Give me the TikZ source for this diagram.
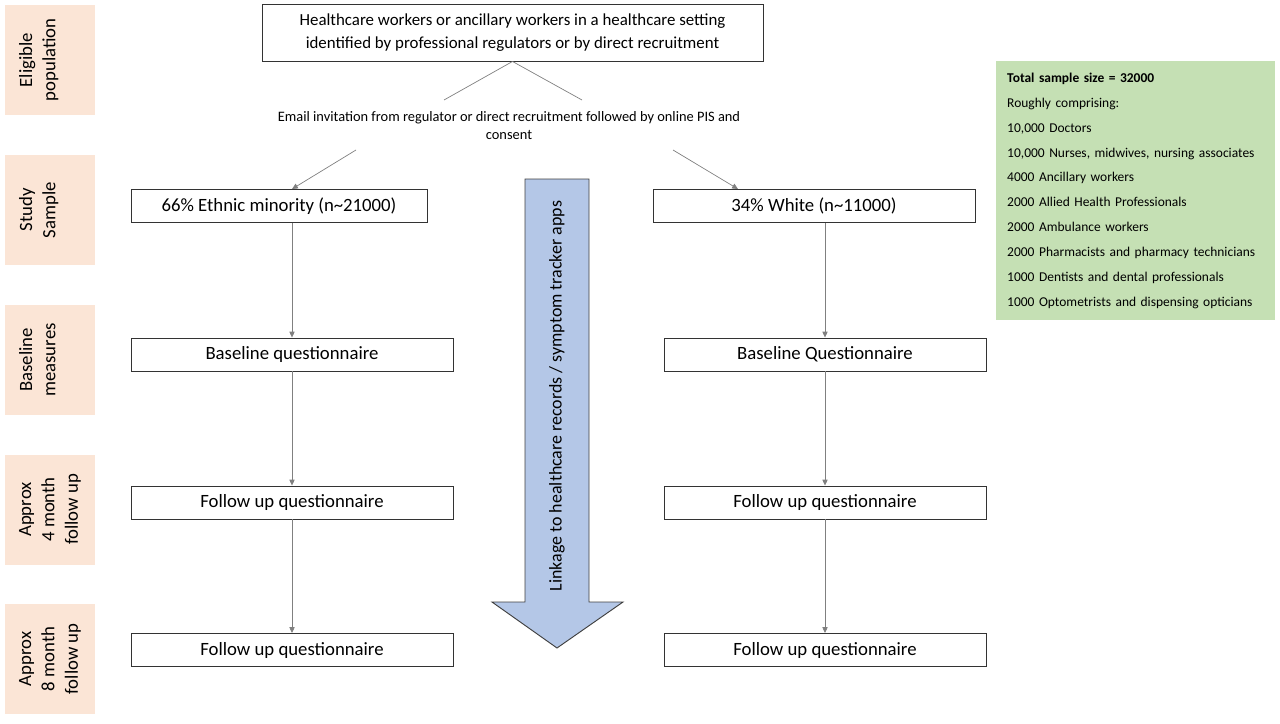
\documentclass[tikz,border=0pt]{standalone}
\usepackage{fontspec}
\setmainfont{Carlito}
\usetikzlibrary{arrows.meta}
\definecolor{peach}{RGB}{251,229,214}
\definecolor{sage}{RGB}{197,224,180}
\definecolor{linkblue}{RGB}{180,199,231}

\begin{document}
\begin{tikzpicture}[x=0.03cm,y=-0.03cm,
  stage/.style={fill=peach,minimum width=2.7cm,minimum height=3.3cm,inner sep=0pt},
  stagetext/.style={xshift=0.42cm,rotate=90,anchor=north,align=center,inner sep=0pt,
    font=\fontsize{16}{20}\selectfont},
  qbox/.style={draw=black!80,line width=0.8pt,minimum width=9.66cm,
    minimum height=0.99cm,font=\fontsize{16}{18}\selectfont},
  link/.style={draw=black!50,line width=0.6pt},
  conn/.style={link,-{Triangle[length=5pt,width=4.5pt]}}]
  \useasboundingbox (0,0) rectangle (1280,723);
  % stages down the left side
  \node[stage] (seligible) at (50,60) {};
  \node[stage] (sstudy) at (50,210) {};
  \node[stage] (sbaseline) at (50,360) {};
  \node[stage] (sfour) at (50,509.5) {};
  \node[stage] (seight) at (50,659) {};
  \node[stagetext] (teligible) at (seligible.west) {Eligible\\population};
  \node[stagetext] (tstudy) at (sstudy.west) {Study\\Sample};
  \node[stagetext] (tbaseline) at (sbaseline.west) {Baseline\\measures};
  \node[stagetext] (tfour) at (sfour.west) {Approx\\4 month\\follow up};
  \node[stagetext] (teight) at (seight.west) {Approx\\8 month\\follow up};
  % recruitment
  \node[qbox,minimum width=15.03cm,minimum height=1.71cm,align=center,
    font=\fontsize{14.4}{19}\selectfont] (eligible) at (512.5,32.5)
    {Healthcare workers or ancillary workers in a healthcare setting\\
     identified by professional regulators or by direct recruitment};
  \node[align=center,font=\fontsize{12.3}{15.4}\selectfont] (invite) at (509,126)
    {Email invitation from regulator or direct recruitment followed by online PIS and\\consent};
  \coordinate (invl) at (444,100);
  \coordinate (invr) at (582,100);
  \coordinate (outl) at (356,150);
  \coordinate (outr) at (673,150);
  \coordinate (rhit) at (738,0);
  % two arms
  \node[qbox,minimum width=8.88cm] (lsample) at (279,206) {66\% Ethnic minority (n\textasciitilde21000)};
  \node[qbox] (lbase) at (292,354.5) {Baseline questionnaire};
  \node[qbox] (lfollow4) at (292,502.5) {Follow up questionnaire};
  \node[qbox] (lfollow8) at (292,650) {Follow up questionnaire};
  \node[qbox] (rsample) at (814,206) {34\% White (n\textasciitilde11000)};
  \node[qbox] (rbase) at (825,354.5) {Baseline Questionnaire};
  \node[qbox] (rfollow4) at (825,502.5) {Follow up questionnaire};
  \node[qbox] (rfollow8) at (825,650) {Follow up questionnaire};
  \draw[link] (eligible.south) -- (invl);
  \draw[link] (eligible.south) -- (invr);
  \draw[conn] (outl) -- (lsample.north -| lbase.north);
  \draw[conn] (outr) -- (rsample.north -| rhit);
  \draw[conn] (lsample.south -| lbase.north) -- (lbase.north);
  \draw[conn] (lbase.south) -- (lfollow4.north);
  \draw[conn] (lfollow4.south) -- (lfollow8.north);
  \draw[conn] (rsample.south -| rbase.north) -- (rbase.north);
  \draw[conn] (rbase.south) -- (rfollow4.north);
  \draw[conn] (rfollow4.south) -- (rfollow8.north);
  % linkage arrow
  \path[draw=black!75,fill=linkblue,line width=0.8pt] (525,179) -- (589,179) -- (589,602)
    -- (623,602) -- (557,648) -- (492,602) -- (525,602) -- cycle;
  \node[rotate=90,font=\fontsize{15.3}{17}\selectfont] (linkage) at (557,396)
    {Linkage to healthcare records / symptom tracker apps};
  % sample size
  \node[fill=sage,anchor=north west,minimum width=8.37cm,minimum height=7.77cm,
    inner xsep=0.33cm,text width=7.71cm,align=left,
    font=\fontsize{11.5}{21.2}\selectfont] (sizes) at (996,61)
    {\textbf{Total sample size = 32000}\\
     Roughly comprising:\\
     10,000 Doctors\\
     10,000 Nurses, midwives, nursing associates\\
     4000 Ancillary workers\\
     2000 Allied Health Professionals\\
     2000 Ambulance workers\\
     2000 Pharmacists and pharmacy technicians\\
     1000 Dentists and dental professionals\\
     1000 Optometrists and dispensing opticians};
\end{tikzpicture}
\end{document}
